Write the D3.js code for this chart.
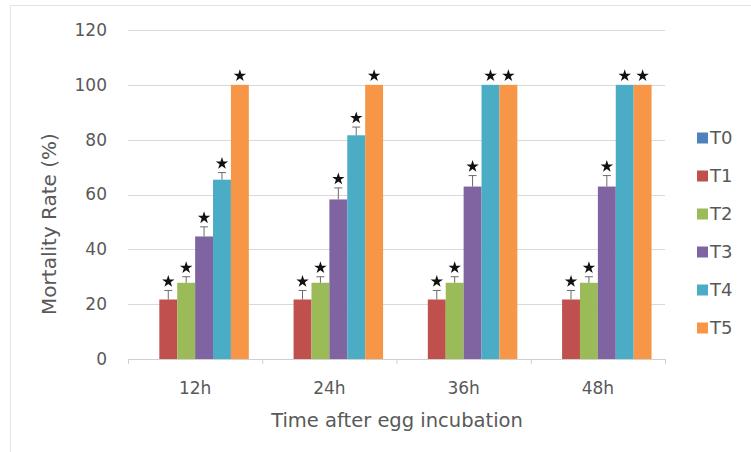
<!DOCTYPE html>
<html>
<head>
<meta charset="utf-8">
<script src="https://cdn.jsdelivr.net/npm/d3@7"></script>
<style>
  body { margin: 0; background: #fff; }
  text { font-family: "DejaVu Sans", Arial, sans-serif; fill: #595959; }
</style>
</head>
<body>
<div id="chart"></div>
<script>
const groups = ["12h", "24h", "36h", "48h"];
const series = ["T0", "T1", "T2", "T3", "T4", "T5"];
const colors = ["#4F81BD", "#C0504D", "#9BBB59", "#8064A2", "#4BACC6", "#F79646"];

// mortality (%) per series, one value per time point
const values = {
  T0: [0, 0, 0, 0],
  T1: [21.7, 21.7, 21.7, 21.7],
  T2: [27.8, 27.8, 27.8, 27.8],
  T3: [44.7, 58.2, 62.9, 62.9],
  T4: [65.4, 81.6, 100, 100],
  T5: [100, 100, 100, 100]
};
const errors = {
  T0: [0, 0, 0, 0],
  T1: [3.3, 3.3, 3.3, 3.3],
  T2: [2.2, 2.2, 2.2, 2.2],
  T3: [3.5, 4.2, 4.0, 4.0],
  T4: [2.6, 3.0, 0, 0],
  T5: [0, 0, 0, 0]
};
const yTicks = [0, 20, 40, 60, 80, 100, 120];

const W = 751, H = 452;
const plot = { left: 128, right: 665, top: 30, bottom: 359 };

const svg = d3.select("#chart").append("svg")
  .attr("width", W)
  .attr("height", H);

// outer frame
svg.append("rect")
  .attr("x", 10.5).attr("y", 5.5)
  .attr("width", W + 10).attr("height", H + 10)
  .attr("fill", "none")
  .attr("stroke", "#e3e3e3");

const x0 = d3.scaleBand().domain(groups).range([plot.left, plot.right]).paddingInner(0.2).paddingOuter(0.1);
const x1 = d3.scaleBand().domain(series).range([0, x0.bandwidth()]);
const y = d3.scaleLinear().domain([0, 120]).range([plot.bottom, plot.top]);

// gridlines
svg.append("g")
  .selectAll("line")
  .data(yTicks.filter(d => d > 0))
  .enter().append("line")
  .attr("x1", plot.left).attr("x2", plot.right)
  .attr("y1", d => Math.round(y(d)) + 0.5)
  .attr("y2", d => Math.round(y(d)) + 0.5)
  .attr("stroke", "#d9d9d9");

// y tick labels
svg.append("g")
  .selectAll("text")
  .data(yTicks)
  .enter().append("text")
  .attr("x", 107)
  .attr("y", d => y(d))
  .attr("dy", "0.35em")
  .attr("text-anchor", "end")
  .style("font-size", "17px")
  .text(d => d);

// bars
const flat = [];
groups.forEach((g, gi) => {
  series.forEach((s, si) => {
    flat.push({ group: g, key: s, color: colors[si], value: values[s][gi], err: errors[s][gi] });
  });
});

svg.append("g")
  .selectAll("rect")
  .data(flat.filter(d => d.value > 0))
  .enter().append("rect")
  .attr("x", d => x0(d.group) + x1(d.key))
  .attr("y", d => y(d.value))
  .attr("width", x1.bandwidth())
  .attr("height", d => y(0) - y(d.value))
  .attr("fill", d => d.color);

// error bars
const eb = svg.append("g")
  .selectAll("g")
  .data(flat.filter(d => d.err > 0))
  .enter().append("g")
  .attr("stroke", "#6b6b6b")
  .attr("stroke-width", 1);

eb.append("line")
  .attr("x1", d => x0(d.group) + x1(d.key) + x1.bandwidth() / 2)
  .attr("x2", d => x0(d.group) + x1(d.key) + x1.bandwidth() / 2)
  .attr("y1", d => y(d.value))
  .attr("y2", d => y(d.value + d.err));

eb.append("line")
  .attr("x1", d => x0(d.group) + x1(d.key) + x1.bandwidth() / 2 - 4)
  .attr("x2", d => x0(d.group) + x1(d.key) + x1.bandwidth() / 2 + 4)
  .attr("y1", d => y(d.value + d.err))
  .attr("y2", d => y(d.value + d.err));

// significance stars
const star = d3.symbol().type(d3.symbolStar).size(48);
svg.append("g")
  .selectAll("path")
  .data(flat.filter(d => d.value > 0))
  .enter().append("path")
  .attr("d", star)
  .attr("transform", d => `translate(${x0(d.group) + x1(d.key) + x1.bandwidth() / 2},${y(d.value + d.err) - 9})`)
  .attr("fill", "#111");

// x axis line
svg.append("line")
  .attr("x1", plot.left).attr("x2", plot.right)
  .attr("y1", plot.bottom + 0.5).attr("y2", plot.bottom + 0.5)
  .attr("stroke", "#d0d0d0");

svg.append("g")
  .selectAll("line")
  .data(d3.range(groups.length + 1))
  .enter().append("line")
  .attr("x1", i => plot.left + i * (plot.right - plot.left) / groups.length + 0.5)
  .attr("x2", i => plot.left + i * (plot.right - plot.left) / groups.length + 0.5)
  .attr("y1", plot.bottom).attr("y2", plot.bottom + 5)
  .attr("stroke", "#d0d0d0");

// x tick labels
svg.append("g")
  .selectAll("text")
  .data(groups)
  .enter().append("text")
  .attr("x", d => x0(d) + x0.bandwidth() / 2)
  .attr("y", 388)
  .attr("dy", "0.35em")
  .attr("text-anchor", "middle")
  .style("font-size", "17px")
  .text(d => d);

// axis titles
svg.append("text")
  .attr("x", 397).attr("y", 420)
  .attr("dy", "0.35em")
  .attr("text-anchor", "middle")
  .style("font-size", "19.5px")
  .text("Time after egg incubation");

svg.append("text")
  .attr("transform", "translate(49,224) rotate(-90)")
  .attr("dy", "0.35em")
  .attr("text-anchor", "middle")
  .style("font-size", "20px")
  .text("Mortality Rate (%)");

// legend
const legend = svg.append("g")
  .selectAll("g")
  .data(series)
  .enter().append("g")
  .attr("transform", (d, i) => `translate(697,${138 + i * 38})`);

legend.append("rect")
  .attr("x", 0).attr("y", -5.5)
  .attr("width", 11).attr("height", 11)
  .attr("fill", (d, i) => colors[i]);

legend.append("text")
  .attr("x", 13).attr("y", 0)
  .attr("dy", "0.35em")
  .style("font-size", "18px")
  .text(d => d);
</script>
</body>
</html>
